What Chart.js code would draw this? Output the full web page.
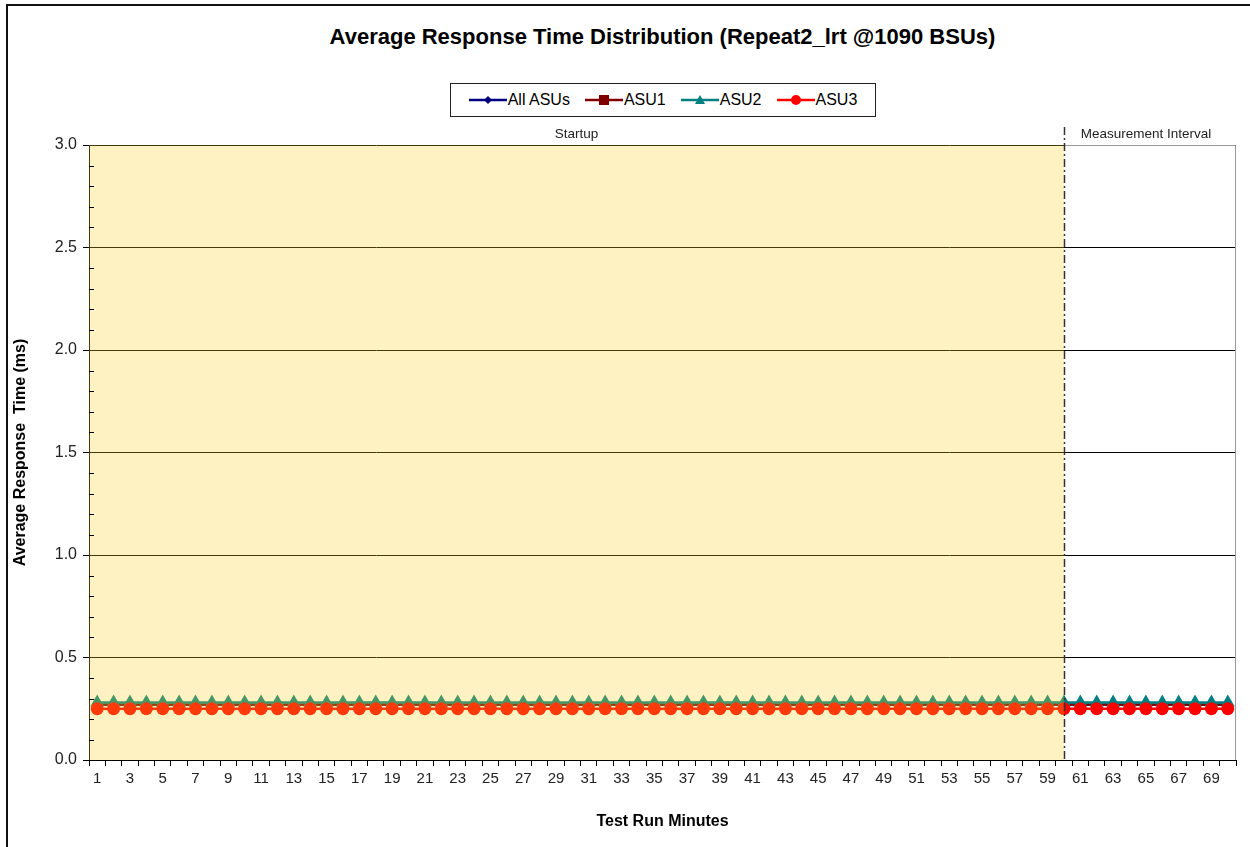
<!DOCTYPE html>
<html>
<head>
<meta charset="utf-8">
<script src="https://cdn.jsdelivr.net/npm/chart.js@4.4.1/dist/chart.umd.min.js"></script>
<style>
  html, body { margin: 0; padding: 0; background: #fff; }
  #wrap { position: relative; width: 1250px; height: 847px; font-family: "Liberation Sans", Arial, sans-serif; }
  #frame { position: absolute; left: 6px; top: 4px; width: 1250px; height: 850px; border-left: 2px solid #111; border-top: 2px solid #111; box-sizing: border-box; }
  #title { position: absolute; left: 89px; width: 1147px; top: 24px; text-align: center; font-weight: bold; font-size: 22px; color: #000; }
  #legend { position: absolute; left: 450px; top: 83px; width: 426px; height: 34px; border: 1px solid #222; box-sizing: border-box;
            display: flex; align-items: center; justify-content: center; gap: 15px; font-size: 16px; color: #000; }
  #legend span { display: inline-flex; align-items: center; }
  #legend svg { margin-right: 1px; }
  canvas { position: absolute; left: 0; top: 0; }
</style>
</head>
<body>
<div id="wrap">
  <div id="frame"></div>
  <div id="title">Average Response Time Distribution (Repeat2_lrt @1090 BSUs)</div>
  <div id="legend"></div>
  <canvas id="c" width="1250" height="847"></canvas>
</div>
<script>
// minutes 1..70
const minutes = [];
for (let m = 1; m <= 70; m++) minutes.push(String(m));

// startup ends at minute 60, measurement interval after it
const startupEnd = "60";

// flat the whole run
const allAsus = [
  0.27,0.27,0.27,0.27,0.27,0.27,0.27,0.27,0.27,0.27,
  0.27,0.27,0.27,0.27,0.27,0.27,0.27,0.27,0.27,0.27,
  0.27,0.27,0.27,0.27,0.27,0.27,0.27,0.27,0.27,0.27,
  0.27,0.27,0.27,0.27,0.27,0.27,0.27,0.27,0.27,0.27,
  0.27,0.27,0.27,0.27,0.27,0.27,0.27,0.27,0.27,0.27,
  0.27,0.27,0.27,0.27,0.27,0.27,0.27,0.27,0.27,0.27,
  0.27,0.27,0.27,0.27,0.27,0.27,0.27,0.27,0.27,0.27
];
const asu1 = [
  0.27,0.27,0.27,0.27,0.27,0.27,0.27,0.27,0.27,0.27,
  0.27,0.27,0.27,0.27,0.27,0.27,0.27,0.27,0.27,0.27,
  0.27,0.27,0.27,0.27,0.27,0.27,0.27,0.27,0.27,0.27,
  0.27,0.27,0.27,0.27,0.27,0.27,0.27,0.27,0.27,0.27,
  0.27,0.27,0.27,0.27,0.27,0.27,0.27,0.27,0.27,0.27,
  0.27,0.27,0.27,0.27,0.27,0.27,0.27,0.27,0.27,0.27,
  0.27,0.27,0.27,0.27,0.27,0.27,0.27,0.27,0.27,0.27
];
const asu2 = [
  0.28,0.28,0.28,0.28,0.28,0.28,0.28,0.28,0.28,0.28,
  0.28,0.28,0.28,0.28,0.28,0.28,0.28,0.28,0.28,0.28,
  0.28,0.28,0.28,0.28,0.28,0.28,0.28,0.28,0.28,0.28,
  0.28,0.28,0.28,0.28,0.28,0.28,0.28,0.28,0.28,0.28,
  0.28,0.28,0.28,0.28,0.28,0.28,0.28,0.28,0.28,0.28,
  0.28,0.28,0.28,0.28,0.28,0.28,0.28,0.28,0.28,0.28,
  0.28,0.28,0.28,0.28,0.28,0.28,0.28,0.28,0.28,0.28
];
const asu3 = [
  0.25,0.25,0.25,0.25,0.25,0.25,0.25,0.25,0.25,0.25,
  0.25,0.25,0.25,0.25,0.25,0.25,0.25,0.25,0.25,0.25,
  0.25,0.25,0.25,0.25,0.25,0.25,0.25,0.25,0.25,0.25,
  0.25,0.25,0.25,0.25,0.25,0.25,0.25,0.25,0.25,0.25,
  0.25,0.25,0.25,0.25,0.25,0.25,0.25,0.25,0.25,0.25,
  0.25,0.25,0.25,0.25,0.25,0.25,0.25,0.25,0.25,0.25,
  0.25,0.25,0.25,0.25,0.25,0.25,0.25,0.25,0.25,0.25
];

const seriesNames = ["All ASUs", "ASU1", "ASU2", "ASU3"];
const seriesColors = ["#000080", "#800000", "#008080", "#ff0000"];
const seriesMarkers = ["rectRot", "rect", "triangle", "circle"];
const seriesRadius = [4, 5, 8, 6.5];

// legend is html, excel style line-with-marker
const markerSvg = {
  rectRot: c => `<polygon points="19,1 23,5 19,9 15,5" fill="${c}"/>`,
  rect: c => `<rect x="14" y="0" width="10" height="10" fill="${c}"/>`,
  triangle: c => `<polygon points="19,0 24,9 14,9" fill="${c}"/>`,
  circle: c => `<circle cx="19" cy="5" r="5" fill="${c}"/>`
};
document.getElementById("legend").innerHTML = seriesNames.map((n, i) =>
  `<span><svg width="38" height="10"><line x1="0" y1="5" x2="38" y2="5" stroke="${seriesColors[i]}" stroke-width="2.5"/>${markerSvg[seriesMarkers[i]](seriesColors[i])}</svg>${n}</span>`
).join("");

// startup shading + divider + region labels, drawn on top like excel does
const regions = {
  id: "regions",
  afterDatasetsDraw(chart) {
    const { ctx, chartArea: a, scales: { x } } = chart;
    const xEnd = x.getPixelForValue(minutes.indexOf(startupEnd));
    ctx.save();
    ctx.fillStyle = "rgba(255,208,37,0.28)";
    ctx.fillRect(a.left, a.top, xEnd - a.left, a.bottom - a.top);
    ctx.strokeStyle = "#999";
    ctx.lineWidth = 1;
    ctx.beginPath();
    ctx.moveTo(xEnd, a.top + 0.5); ctx.lineTo(a.right - 0.5, a.top + 0.5); ctx.lineTo(a.right - 0.5, a.bottom);
    ctx.stroke();
    ctx.strokeStyle = "#333";
    ctx.lineWidth = 1.5;
    ctx.setLineDash([8, 3, 2, 3]);
    ctx.beginPath();
    ctx.moveTo(Math.round(xEnd) + 0.5, a.top - 18);
    ctx.lineTo(Math.round(xEnd) + 0.5, a.bottom);
    ctx.stroke();
    ctx.setLineDash([]);
    ctx.fillStyle = "#222";
    ctx.font = "13.5px 'Liberation Sans', Arial";
    ctx.textAlign = "center";
    ctx.textBaseline = "middle";
    ctx.fillText("Startup", (a.left + xEnd) / 2, a.top - 11);
    ctx.fillText("Measurement Interval", (xEnd + a.right) / 2 - 4, a.top - 11);
    // minor y ticks point inward
    const y = chart.scales.y;
    ctx.strokeStyle = "#000";
    ctx.lineWidth = 1;
    for (const t of y.ticks) {
      if (Math.round(t.value * 10) % 5 === 0) continue;
      const py = Math.round(y.getPixelForValue(t.value)) + 0.5;
      ctx.beginPath();
      ctx.moveTo(a.left, py); ctx.lineTo(a.left + 5, py);
      ctx.stroke();
    }
    ctx.restore();
  }
};

const isMajor = v => Math.round(v * 10) % 5 === 0;

new Chart(document.getElementById("c"), {
  type: "line",
  data: {
    labels: minutes,
    datasets: [allAsus, asu1, asu2, asu3].map((d, i) => ({
      label: seriesNames[i],
      data: d,
      borderColor: seriesColors[i],
      backgroundColor: seriesColors[i],
      pointStyle: seriesMarkers[i],
      pointRadius: seriesRadius[i],
      borderWidth: 2.5,
      pointBorderWidth: 0,
      tension: 0,
      order: 4 - i
    }))
  },
  options: {
    responsive: false,
    animation: false,
    layout: { padding: { top: 145, left: 11, right: 14, bottom: 12 } },
    plugins: { legend: { display: false }, tooltip: { enabled: false }, title: { display: false } },
    scales: {
      x: {
        offset: true,
        grid: { offset: true, drawOnChartArea: false, drawTicks: true, tickLength: 6, color: "#000" },
        border: { color: "#000", width: 1 },
        ticks: {
          autoSkip: false, maxRotation: 0, padding: 4,
          color: "#222", font: { family: "'Liberation Sans', Arial", size: 15 },
          callback: (v, i) => (i % 2 === 0 ? minutes[i] : "")
        },
        title: { display: true, text: "Test Run Minutes", color: "#000", font: { family: "'Liberation Sans', Arial", size: 16, weight: "bold" }, padding: { top: 12 } },
        afterFit: s => { s.height = 75; }
      },
      y: {
        min: 0, max: 3,
        ticks: {
          stepSize: 0.1, autoSkip: false, padding: 6,
          color: "#222", font: { family: "'Liberation Sans', Arial", size: 16 },
          callback: v => (isMajor(v) ? v.toFixed(1) : "")
        },
        grid: {
          color: c => (isMajor(c.tick.value) && c.tick.value > 0 ? "#000" : "rgba(0,0,0,0)"),
          tickColor: c => (isMajor(c.tick.value) ? "#000" : "rgba(0,0,0,0)"),
          tickLength: 6
        },
        border: { color: "#000", width: 1 },
        title: { display: true, text: "Average Response  Time (ms)", color: "#000", font: { family: "'Liberation Sans', Arial", size: 16, weight: "bold" }, padding: { top: 0, bottom: 0 } },
        afterFit: s => { s.width = 78; }
      }
    }
  },
  plugins: [regions]
});
</script>
</body>
</html>
